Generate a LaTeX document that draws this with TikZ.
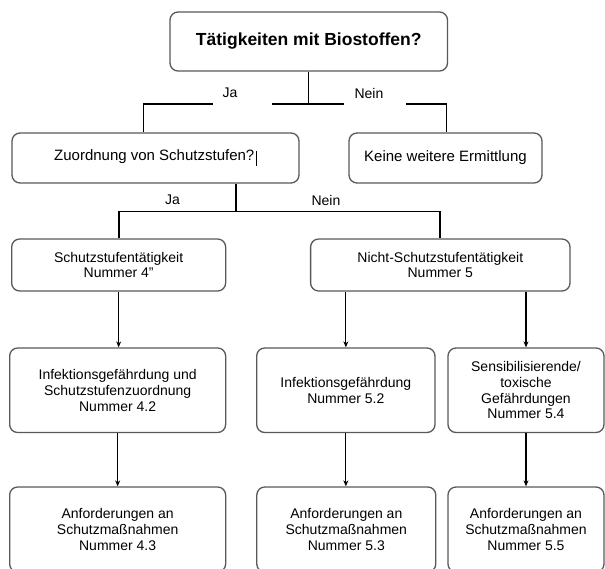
\documentclass[tikz,border=0pt]{standalone}
\usepackage{fontspec}
\setmainfont{Liberation Sans}
\usetikzlibrary{arrows.meta}
\begin{document}
\begin{tikzpicture}[x=1pt,y=-1pt,
  box/.style={draw=black!65, line width=1.3pt, rounded corners=8pt, fill=white,
    align=center, inner sep=0pt, font=\fontsize{14}{15.8}\selectfont},
  lbl/.style={font=\fontsize{14}{16}\selectfont, inner sep=0pt},
  conn/.style={line width=1.2pt, draw=black},
  arr/.style={conn, -{Stealth[length=6pt,width=5pt]}}]
\useasboundingbox (0,0) rectangle (605,569);
\clip (0,0) rectangle (605,569);

% boxes
\node[box, minimum width=277.5pt, minimum height=59pt, font=\fontsize{17.5}{20}\selectfont\bfseries]
  (top) at (308.75,41.5) {Tätigkeiten mit Biostoffen?};
\node[box, minimum width=287pt, minimum height=50pt, font=\fontsize{15}{17}\selectfont]
  (zuo) at (155.5,158) {Zuordnung von Schutzstufen?\hspace{1.5pt}\rule[-5pt]{1pt}{15pt}};
\node[box, minimum width=193pt, minimum height=50pt, font=\fontsize{15}{17}\selectfont]
  (keine) at (445.5,158) {Keine weitere Ermittlung};

\node[box, minimum width=214pt, minimum height=52pt] (s4) at (118.65,265)
  {Schutzstufentätigkeit\\Nummer 4"};
\node[box, minimum width=259.4pt, minimum height=52pt] (s5) at (440.3,265)
  {Nicht-Schutzstufentätigkeit\\Nummer 5};

\node[box, minimum width=216pt, minimum height=84.5pt] (r3a) at (117.65,390.25)
  {Infektionsgefährdung und\\Schutzstufenzuordnung\\Nummer 4.2};
\node[box, minimum width=178.3pt, minimum height=84.5pt] (r3b) at (345.85,390.25)
  {Infektionsgefährdung\\Nummer 5.2};
\node[box, minimum width=156pt, minimum height=84.5pt] (r3c) at (526,390.25)
  {Sensibilisierende/\\toxische\\Gefährdungen\\Nummer 5.4};

\node[box, minimum width=216pt, minimum height=85pt] (r4a) at (117.65,529.5)
  {Anforderungen an\\Schutzmaßnahmen\\Nummer 4.3};
\node[box, minimum width=179pt, minimum height=85pt] (r4b) at (346.3,529.5)
  {Anforderungen an\\Schutzmaßnahmen\\Nummer 5.3};
\node[box, minimum width=156pt, minimum height=85pt] (r4c) at (526,529.5)
  {Anforderungen an\\Schutzmaßnahmen\\Nummer 5.5};

% first split
\coordinate (h1L) at (143.5,104);
\coordinate (h1R) at (446.8,104);
\coordinate (g1a) at (212.7,104);
\coordinate (g1b) at (271.7,104);
\coordinate (g1c) at (344,104);
\coordinate (g1d) at (406,104);
\draw[conn] (top.south) -- (top.south |- h1L);
\draw[conn] (h1L |- zuo.north) -- (h1L) -- (g1a);
\draw[conn] (g1b) -- (g1c);
\draw[conn] (g1d) -- (h1R) -- (h1R |- keine.north);
\node[lbl] (ja1) at (230,93) {Ja};
\node[lbl] (nein1) at (369,93) {Nein};

% second split
\coordinate (h2L) at (119,211.7);
\coordinate (h2R) at (440,211.7);
\coordinate (h2m) at (236,211.7);
\draw[conn] (zuo.south -| h2m) -- (h2m);
\draw[conn] (h2L |- s4.north) -- (h2L) -- (h2R) -- (h2R |- s5.north);
\node[lbl] (ja2) at (172.5,200) {Ja};
\node[lbl] (nein2) at (326,200) {Nein};

% arrows
\draw[arr] (s4.south) -- (s4.south |- r3a.north);
\draw[arr] (s5.south -| r3b.north) -- (r3b.north);
\draw[arr] (s5.south -| r3c.north) -- (r3c.north);
\draw[arr] (r3a.south) -- (r4a.north);
\draw[arr] (r3b.south) -- (r3b.south |- r4b.north);
\draw[arr] (r3c.south) -- (r4c.north);
\end{tikzpicture}
\end{document}
